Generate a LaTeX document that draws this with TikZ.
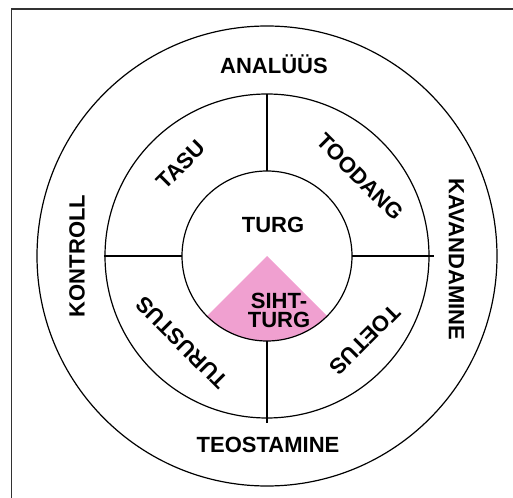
\documentclass[tikz,border=0pt]{standalone}
\usepackage{fontspec}
\setmainfont{Liberation Sans}
\definecolor{sihtpink}{RGB}{240,160,208}
\definecolor{framegray}{RGB}{50,50,50}
\tikzset{
  ring/.style={line width=1.2pt},
  lbl/.style={font=\bfseries\fontsize{22}{19}\selectfont, inner sep=0pt, align=center}
}
\begin{document}
\begin{tikzpicture}[x=1pt,y=1pt]
\useasboundingbox (-267,-241) rectangle (246,256);
\clip (-267,-241) rectangle (246,256);
\draw [line width=1.6pt, framegray] (-255.3,-270) rectangle (270,246.7);
\fill [sihtpink] (0,0) -- (225:85) arc (225:315:85) -- cycle;
\foreach \r in {85,162,230} {
  \draw [ring] (0,0) circle (\r);
}
\draw [ring] (0,85) -- (0,162) (0,-85) -- (0,-167)
  (-163,0) -- (-85,0) (85,0) -- (167,0);
% outer ring
\node [lbl] (analyys) at (7,191.5) {ANALÜÜS};
\node [lbl] (teostamine) at (1,-189) {TEOSTAMINE};
\node [lbl, rotate=90] (kontroll) at (-190,0) {KONTROLL};
\node [lbl, rotate=-90] (kavandamine) at (189.5,-3.5) {KAVANDAMINE};
% middle ring
\node [lbl, rotate=45] (tasu) at (-86,91) {TASU};
\node [lbl, rotate=-45] (toodang) at (93,79) {TOODANG};
\node [lbl, rotate=135] (turustus) at (-85,-87) {TURUSTUS};
\node [lbl, rotate=-135] (toetus) at (98,-84) {TOETUS};
% centre
\node [lbl] (turg) at (6,31) {TURG};
\node [lbl] (sihtturg) at (12,-54) {SIHT-\\TURG};
\end{tikzpicture}
\end{document}
